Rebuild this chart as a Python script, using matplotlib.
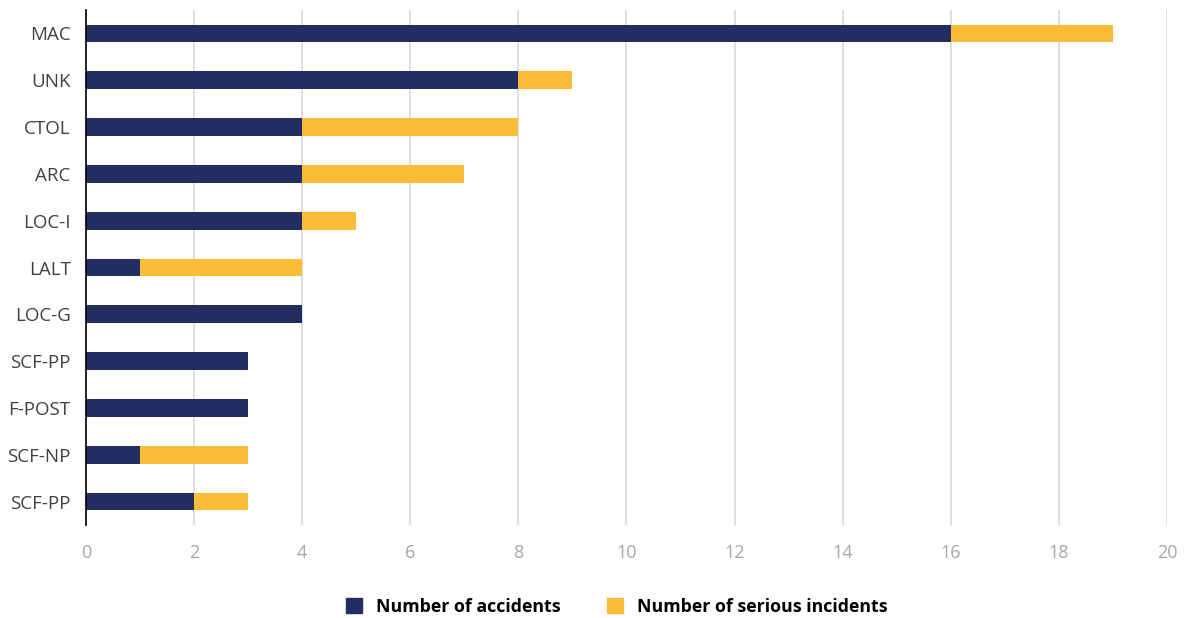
import matplotlib
matplotlib.use('Agg')
import matplotlib.pyplot as plt
from matplotlib.patches import Patch

categories = ['MAC', 'UNK', 'CTOL', 'ARC', 'LOC-I', 'LALT', 'LOC-G',
              'SCF-PP', 'F-POST', 'SCF-NP', 'SCF-PP']
accidents = [16, 8, 4, 4, 4, 1, 4, 3, 3, 1, 2]
serious = [3, 1, 4, 3, 1, 3, 0, 0, 0, 2, 1]

navy = '#222e62'
yellow = '#fbbc38'

plt.rcParams['font.family'] = ['Open Sans', 'DejaVu Sans']

fig = plt.figure(figsize=(11.84, 6.18), dpi=100)
ax = fig.add_axes([0.0726, 0.1505, 0.9130, 0.8333])

y = list(range(len(categories)))
ax.barh(y, accidents, height=0.38, color=navy, label='Number of accidents')
ax.barh(y, serious, height=0.38, left=accidents, color=yellow,
        label='Number of serious incidents')

ax.set_xlim(0, 20)
ax.set_ylim(10.5, -0.5)
ax.set_xticks(range(0, 21, 2))
ax.set_yticks(y)
ax.set_yticklabels(categories)
ax.grid(axis='x', color='#d9d9d9', linewidth=1.2)
ax.set_axisbelow(True)

for s in ['top', 'right', 'bottom']:
    ax.spines[s].set_visible(False)
ax.spines['left'].set_color('black')
ax.spines['left'].set_linewidth(1.2)

ax.tick_params(axis='x', length=0, pad=14, labelsize=13, labelcolor='#a6a6a6')
ax.tick_params(axis='y', length=0, pad=11, labelsize=13.5, labelcolor='#404040')

handles = [Patch(color=navy, label='Number of accidents'),
           Patch(color=yellow, label='Number of serious incidents')]
fig.legend(handles=handles, loc='center', bbox_to_anchor=(0.521, 0.018),
           ncol=2, frameon=False, handlelength=0.9, handleheight=0.9,
           columnspacing=2.6, handletextpad=0.8,
           prop={'size': 12.8, 'weight': 'bold', 'family': 'Open Sans'})

fig.savefig('out.png', dpi=100)
